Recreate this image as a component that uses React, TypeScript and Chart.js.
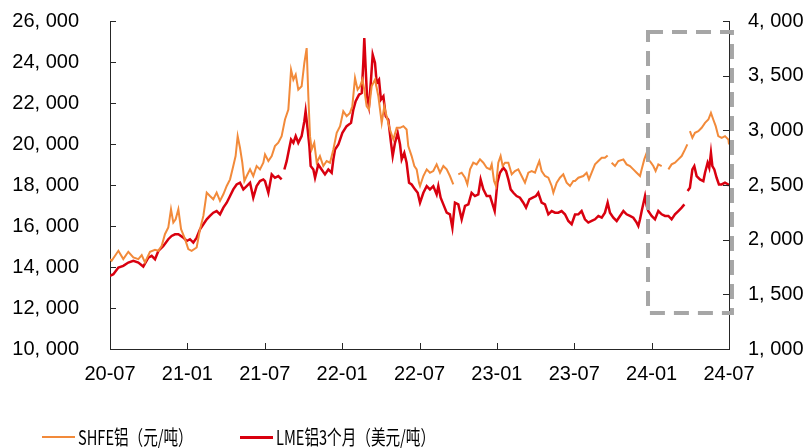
import React, { useEffect, useRef } from "react";
import { Chart, registerables } from "chart.js";

Chart.register(...registerables);

// X axis: months elapsed since 2020-07, labelled every half year
const xTickLabels = ["20-07", "21-01", "21-07", "22-01", "22-07", "23-01", "23-07", "24-01", "24-07"];

const shfeLabel = "SHFE铝（元/吨）";
const lmeLabel = "LME铝3个月（美元/吨）";

// SHFE aluminium, CNY/t (left axis); null marks a break in the series
const shfeMonths = [
  0, 0.13, 0.65, 1.03, 1.42, 1.81, 2.2, 2.46, 2.71, 3.1, 3.49, 3.75, 4.01, 4.26, 4.52, 4.73, 4.91, 5.09, 5.3, 5.51,
  5.82, 6.07, 6.33, 6.72, 6.98, 7.24, 7.5, 7.75, 8.01, 8.27, 8.53, 8.79, 9.05, 9.31, 9.56, 9.74, 9.9, 10.08, 10.26,
  10.42, 10.6, 10.86, 11.11, 11.37, 11.63, 11.89, 12.02, 12.28, 12.54, 12.79, 13.05, 13.31, 13.57, 13.83, 14.04,
  14.22, 14.4, 14.6, 14.86, 15.07, 15.25, 15.38, 15.51, 15.64, 15.84, 16.03, 16.28, 16.54, 16.8, 17.06, 17.32, 17.58,
  17.84, 18.09, 18.35, 18.61, 18.79, 19.0, 19.2, 19.39, 19.57, 19.72, 19.9, 20.08, 20.29, 20.55, 20.81, 21.07, 21.27,
  21.45, 21.71, 21.97, 22.23, 22.49, 22.75, 23.0, 23.13, 23.39, 23.6, 23.78, 23.96, 24.04, 24.3, 24.56, 24.81, 25.07,
  25.33, 25.59, 25.85, 26.11, 26.36, 26.62, 26.8, 27.01, 27.27, 27.53, 27.71, 27.92, 28.17, 28.43, 28.69, 28.95,
  29.21, 29.47, 29.6, 29.78, 29.93, 30.11, 30.29, 30.45, 30.63, 30.89, 31.15, 31.4, 31.66, 31.92, 32.18, 32.44, 32.7,
  32.96, 33.14, 33.29, 33.47, 33.73, 33.99, 34.25, 34.38, 34.64, 34.89, 35.15, 35.41, 35.67, 35.93, 36.06, 36.32,
  36.7, 36.96, 37.14, 37.35, 37.61, 37.87, 38.13, 38.38, 38.59, 38.75, 38.9, 39.16, 39.42, 39.81, 40.06, 40.32, 40.58,
  40.84, 41.1, 41.23, 41.43, 41.62, 41.74, 41.95, 42.13, 42.31, 42.52, 42.78, 43.04, 43.3, 43.55, 43.81, 44.07, 44.33,
  44.59, 44.77, 44.87, 44.97, 45.16, 45.36, 45.62, 45.88, 46.14, 46.4, 46.6, 46.78, 46.97, 47.17, 47.43, 47.69, 47.95,
  48.0,
];
const shfePrices = [
  14385, 14304, 14790, 14385, 14742, 14466, 14385, 14580, 14223, 14742, 14839, 14790, 15034, 15601, 15925, 16817,
  16168, 16331, 16817, 15844, 15358, 14871, 14790, 14952, 15844, 16493, 17628, 17465, 17303, 17628, 17222, 17547,
  17952, 18276, 18925, 19411, 20384, 19816, 19087, 18195, 18438, 18763, 18438, 18925, 18763, 19087, 19492, 19168,
  19411, 19897, 20060, 20384, 21194, 21681, 23626, 23140, 23383, 22654, 22816, 23951, 24680, 22329, 20384, 19735,
  20060, 19087, 19411, 18925, 19168, 19087, 19735, 20546, 20870, 21600, 21357, 21519, 21843, 23221, 22654, 22816,
  23140, 22654, 21843, 21681, 22816, 23140, 22329, 21032, 21843, 21357, 20708, 20222, 20789, 20789, 20870, 20708,
  19897, 19411, 18925, 18763, 18114, 17952, 18438, 18763, 18600, 18681, 19006, 18600, 18925, 18763, 18438, 18033,
  null, 18519, 18600, 18357, 18033, 18763, 19087, 19006, 19249, 19087, 18844, 18763, 19006, 18195, 17952, 19087,
  19411, 18925, 19087, 19087, 18519, 18681, 18763, 18438, 18114, 18600, 18681, 18600, 18925, 19168, 18681, 18438,
  18357, 17952, 17628, 18114, 18357, 18519, 18114, 17952, 18195, 18195, 18357, 18438, 18600, 18276, 18600, 19006,
  19168, 19330, 19330, 19444, null, 19087, 18925, 19168, 19249, 19006, 18925, 18763, 18600, 18438, 18763, 19249,
  19573, 19249, 19087, 18925, 18681, 19006, 18925, null, 18763, 19006, 19087, 19249, 19411, 19735, 19979, null, 20627,
  20303, 20546, 20627, 20789, 21032, 21194, 21519, 21194, 20870, 20384, 20303, 20384, 20222, 19979,
];

// LME 3-month aluminium, USD/t (right axis)
const lmeMonths = [
  0, 0.26, 0.65, 1.03, 1.42, 1.81, 2.2, 2.58, 2.97, 3.23, 3.49, 3.75, 4.14, 4.52, 4.78, 5.04, 5.3, 5.69, 5.95, 6.2,
  6.46, 6.72, 6.98, 7.24, 7.5, 7.75, 8.01, 8.27, 8.53, 8.79, 9.05, 9.31, 9.56, 9.82, 10.08, 10.34, 10.6, 10.86, 11.11,
  11.37, 11.63, 11.89, 12.02, 12.28, 12.54, 12.79, 13.05, 13.31, 13.42, 13.52, 13.7, 13.88, 14.04, 14.22, 14.4, 14.6,
  14.86, 15.07, 15.17, 15.33, 15.46, 15.56, 15.77, 15.9, 16.15, 16.41, 16.67, 16.93, 17.19, 17.32, 17.45, 17.71,
  18.02, 18.35, 18.69, 18.87, 19.05, 19.31, 19.52, 19.64, 19.72, 19.83, 19.93, 20.08, 20.24, 20.37, 20.55, 20.68,
  20.86, 21.01, 21.2, 21.38, 21.58, 21.79, 21.92, 22.1, 22.31, 22.49, 22.62, 22.82, 23.0, 23.19, 23.39, 23.65, 23.86,
  24.04, 24.3, 24.56, 24.81, 25.07, 25.33, 25.46, 25.64, 25.85, 26.11, 26.36, 26.55, 26.75, 27.01, 27.27, 27.53,
  27.79, 28.04, 28.3, 28.56, 28.74, 28.95, 29.21, 29.47, 29.67, 29.83, 30.04, 30.24, 30.5, 30.71, 30.89, 31.07, 31.28,
  31.53, 31.79, 32.05, 32.26, 32.52, 32.78, 33.03, 33.21, 33.47, 33.73, 33.99, 34.25, 34.51, 34.76, 35.02, 35.28,
  35.54, 35.8, 36.06, 36.32, 36.57, 36.83, 37.09, 37.35, 37.61, 37.87, 38.13, 38.38, 38.59, 38.77, 39.03, 39.29,
  39.55, 39.81, 40.06, 40.32, 40.58, 40.84, 40.97, 41.1, 41.23, 41.49, 41.62, 41.74, 42.0, 42.26, 42.52, 42.78, 43.04,
  43.3, 43.55, 43.81, 44.07, 44.33, 44.54, 44.66, 44.79, 44.97, 45.16, 45.31, 45.49, 45.75, 46.01, 46.14, 46.34,
  46.47, 46.6, 46.71, 46.86, 47.04, 47.22, 47.43, 47.69, 47.95, 48.0,
];
const lmePrices = [
  1669, 1684, 1745, 1760, 1791, 1806, 1791, 1754, 1836, 1852, 1821, 1897, 1943, 2004, 2034, 2049, 2049, 2019, 1988,
  2004, 1973, 2019, 2095, 2141, 2186, 2217, 2247, 2262, 2232, 2293, 2338, 2399, 2460, 2505, 2521, 2460, 2490, 2521,
  2384, 2490, 2536, 2551, 2536, 2429, 2597, 2566, 2582, 2551, null, 2642, 2718, 2825, 2916, 2886, 2947, 2886, 2947,
  3083, 3175, 3007, 2855, 2673, 2642, 2566, 2688, 2642, 2597, 2642, 2612, 2734, 2825, 2870, 2977, 3038, 3068, 3190,
  3266, 3327, 3342, 3616, 3844, 3555, 3311, 3220, 3463, 3692, 3616, 3433, 3463, 3281, 3311, 3129, 3098, 2886, 2764,
  2886, 2977, 2870, 2734, 2794, 2703, 2521, 2505, 2460, 2429, 2338, 2429, 2490, 2460, 2490, 2414, 2490, 2384, 2323,
  2247, 2232, 2110, 2338, 2323, 2186, 2308, 2323, 2429, 2399, 2414, 2551, 2460, 2399, 2399, 2323, 2262, 2521, 2612,
  2658, 2627, 2551, 2460, 2429, 2399, 2384, 2338, 2293, 2369, 2384, 2399, 2429, 2338, 2323, 2232, 2262, 2247, 2247,
  2262, 2232, 2171, 2141, 2230, 2232, 2262, 2186, 2156, 2171, 2186, 2217, 2201, 2247, 2338, 2247, 2201, 2171, 2217,
  2262, 2232, 2217, 2201, 2156, 2125, 2186, 2262, 2399, 2308, 2262, 2217, 2186, 2262, 2232, 2217, 2217, 2186, 2232,
  2262, 2293, 2323, null, 2445, 2475, 2642, 2673, 2582, 2551, 2536, 2612, 2703, 2658, 2794, 2673, 2642, 2566, 2505,
  2505, 2521, 2505, 2490,
];

// Highlighted window: months since 2020-07 and left-axis price bounds
const boxMonths = [41.72, 48.23];
const boxPrices = [11756, 25463];

const AXIS_COLOR = "#262626";
const SHFE_COLOR = "#F28A3A";
const LME_COLOR = "#D9000F";
const TICK_FONT = { family: "'Liberation Sans', Arial, sans-serif", size: 20 };
const HIDDEN = "rgba(0,0,0,0)";

const withSpacedComma = (v: number) => v.toLocaleString("en-US").replace(",", ", ");

// Short tick marks pointing into the plot area
const innerTicks = {
  id: "innerTicks",
  afterDraw(chart: any) {
    const { ctx, chartArea, scales } = chart;
    const len = 6;
    ctx.save();
    ctx.strokeStyle = AXIS_COLOR;
    ctx.lineWidth = 1;
    ctx.beginPath();
    scales.x.ticks.forEach((t: any) => {
      const px = Math.round(scales.x.getPixelForValue(t.value)) + 0.5;
      ctx.moveTo(px, chartArea.bottom);
      ctx.lineTo(px, chartArea.bottom - len);
    });
    scales.y.ticks.forEach((t: any) => {
      const py = Math.round(scales.y.getPixelForValue(t.value)) + 0.5;
      ctx.moveTo(chartArea.left, py);
      ctx.lineTo(chartArea.left + len, py);
    });
    scales.y1.ticks.forEach((t: any) => {
      const py = Math.round(scales.y1.getPixelForValue(t.value)) + 0.5;
      ctx.moveTo(chartArea.right, py);
      ctx.lineTo(chartArea.right - len, py);
    });
    ctx.stroke();
    ctx.restore();
  },
};

// Dashed frame around the most recent half year
const highlightBox = {
  id: "highlightBox",
  afterDraw(chart: any) {
    const { ctx, scales } = chart;
    const x0 = scales.x.getPixelForValue(boxMonths[0]);
    const x1 = scales.x.getPixelForValue(boxMonths[1]);
    const y0 = scales.y.getPixelForValue(boxPrices[1]);
    const y1 = scales.y.getPixelForValue(boxPrices[0]);
    ctx.save();
    ctx.strokeStyle = "#A6A6A6";
    ctx.lineWidth = 4;
    ctx.setLineDash([15, 9]);
    ctx.strokeRect(x0, y0, x1 - x0, y1 - y0);
    ctx.restore();
  },
};

// Outward tick marks are kept invisible; their length sets the gap to the labels
const axisGrid = (gap: number) => ({
  display: true,
  drawOnChartArea: false,
  drawTicks: true,
  tickLength: gap,
  tickColor: HIDDEN,
});

export default function App() {
  const canvasRef = useRef<HTMLCanvasElement | null>(null);

  useEffect(() => {
    const canvas = canvasRef.current;
    if (!canvas) return;
    const chart = new Chart(canvas, {
      type: "line",
      data: {
        datasets: [
          {
            label: shfeLabel,
            data: shfeMonths.map((m, i) => ({ x: m, y: shfePrices[i] })),
            borderColor: SHFE_COLOR,
            borderWidth: 2,
            pointRadius: 0,
            tension: 0,
            yAxisID: "y",
          },
          {
            label: lmeLabel,
            data: lmeMonths.map((m, i) => ({ x: m, y: lmePrices[i] })),
            borderColor: LME_COLOR,
            borderWidth: 2.5,
            pointRadius: 0,
            tension: 0,
            yAxisID: "y1",
          },
        ],
      },
      options: {
        responsive: false,
        animation: false,
        devicePixelRatio: 1,
        layout: { padding: { top: 21, left: 0, right: 0, bottom: 0 } },
        plugins: { legend: { display: false }, tooltip: { enabled: false } },
        scales: {
          x: {
            type: "linear",
            min: 0,
            max: 48,
            afterFit: (s: any) => {
              s.height = 99;
            },
            grid: axisGrid(13),
            border: { display: true, color: AXIS_COLOR, width: 1 },
            ticks: {
              stepSize: 6,
              padding: 0,
              color: "#000",
              font: TICK_FONT,
              maxRotation: 0,
              autoSkip: false,
              callback: (v: any) => xTickLabels[Math.round(Number(v) / 6)] ?? "",
            },
          },
          y: {
            position: "left",
            min: 10000,
            max: 26000,
            afterFit: (s: any) => {
              s.width = 110;
            },
            grid: axisGrid(31),
            border: { display: true, color: AXIS_COLOR, width: 1 },
            ticks: {
              stepSize: 2000,
              padding: 0,
              color: "#000",
              font: TICK_FONT,
              callback: (v: any) => withSpacedComma(Number(v)),
            },
          },
          y1: {
            position: "right",
            min: 1000,
            max: 4000,
            afterFit: (s: any) => {
              s.width = 79;
            },
            grid: axisGrid(19),
            border: { display: true, color: AXIS_COLOR, width: 1 },
            ticks: {
              stepSize: 500,
              padding: 0,
              color: "#000",
              font: TICK_FONT,
              callback: (v: any) => withSpacedComma(Number(v)),
            },
          },
        },
      },
      plugins: [innerTicks, highlightBox],
    });
    return () => chart.destroy();
  }, []);

  const legendText: React.CSSProperties = {
    display: "inline-block",
    fontFamily: "'Noto Sans CJK SC', sans-serif",
    fontSize: 20,
    lineHeight: "24px",
    color: "#000",
    transform: "scaleX(0.73)",
    transformOrigin: "left center",
    whiteSpace: "nowrap",
  };
  const legendItem = (left: number, color: string, thick: number, text: string, lineW: number) => (
    <div
      style={{
        position: "absolute",
        left,
        top: 425,
        height: 24,
        display: "flex",
        alignItems: "center",
      }}
    >
      <span style={{ display: "inline-block", width: lineW, height: thick, background: color, marginRight: 3 }} />
      <span style={legendText}>{text}</span>
    </div>
  );

  return (
    <div style={{ position: "absolute", left: 0, top: 0, width: 808, height: 448, background: "#fff", overflow: "hidden" }}>
      <canvas ref={canvasRef} width={808} height={448} style={{ display: "block", width: 808, height: 448 }} />
      {legendItem(42, SHFE_COLOR, 2, shfeLabel, 33)}
      {legendItem(240, LME_COLOR, 3, lmeLabel, 33)}
    </div>
  );
}
